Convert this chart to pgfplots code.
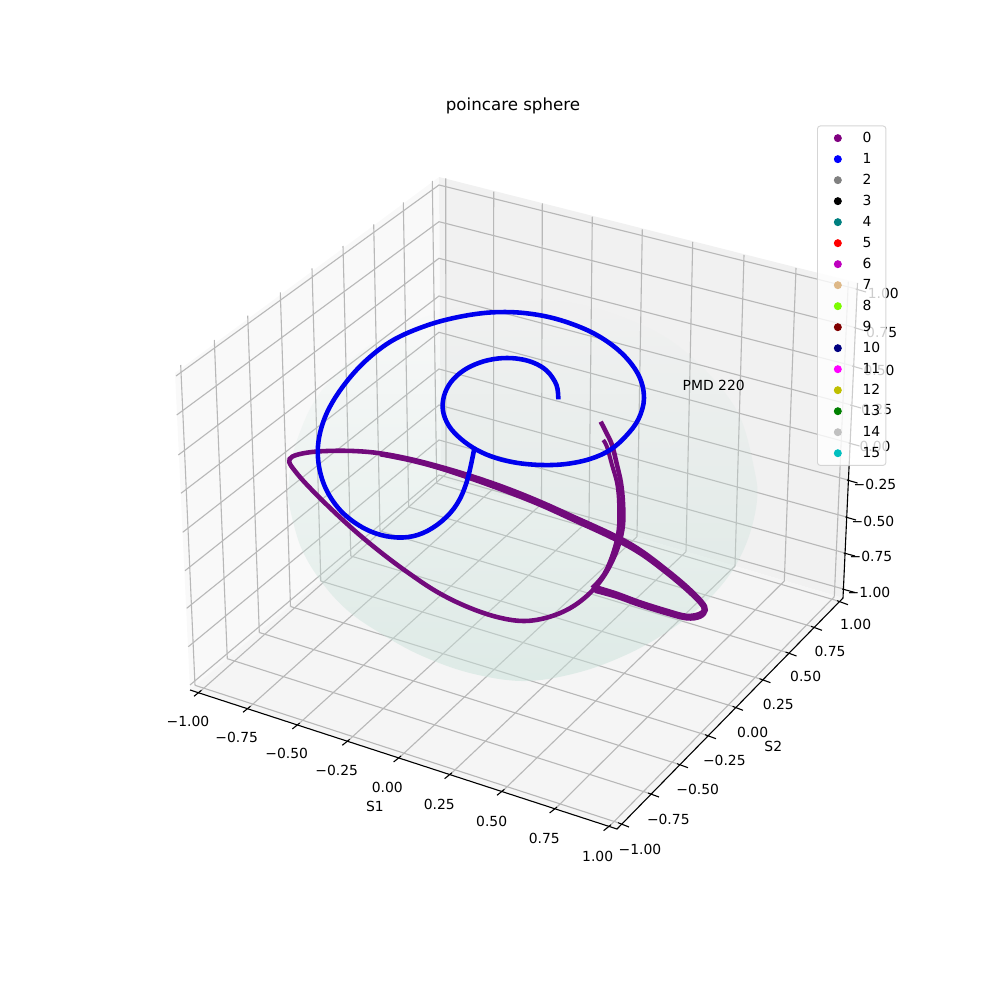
\documentclass[border=0pt]{standalone}
\usepackage{pgfplots}
\pgfplotsset{compat=1.18}
\usepackage{fontspec}
\setmainfont{DejaVu Sans}
\usetikzlibrary{fadings}
\definecolor{c0}{HTML}{800080}\definecolor{c1}{HTML}{0000FF}\definecolor{c2}{HTML}{808080}\definecolor{c3}{HTML}{000000}
\definecolor{c4}{HTML}{008080}\definecolor{c5}{HTML}{FF0000}\definecolor{c6}{HTML}{BF00BF}\definecolor{c7}{HTML}{DEB887}
\definecolor{c8}{HTML}{7CFC00}\definecolor{c9}{HTML}{800000}\definecolor{c10}{HTML}{000080}\definecolor{c11}{HTML}{FF00FF}
\definecolor{c12}{HTML}{BFBF00}\definecolor{c13}{HTML}{008000}\definecolor{c14}{HTML}{C0C0C0}\definecolor{c15}{HTML}{00BFBF}
\definecolor{curvepurple}{HTML}{720A7C}
\definecolor{curveblue}{HTML}{0000EE}
\definecolor{spherecol}{RGB}{200,225,217}
\tikzfading[name=spherefade, top color=transparent!100, middle color=transparent!76, bottom color=transparent!50]
\newcommand{\lab}[1]{\fontsize{10.04}{12}\selectfont #1}
\newcommand{\li}[1]{\addlegendentry{\makebox[4.6pt][l]{#1}}}
\newcommand{\lm}[1]{\addlegendimage{only marks, mark=*, mark size=2.5pt, mark options={draw=#1, fill=#1, fill opacity=1, draw opacity=1}}}
\begin{document}
\begin{tikzpicture}
\useasboundingbox (0,0) rectangle (722.7pt,712.58pt);
\begin{axis}[
  at={(0,0)}, anchor=south west, scale only axis,
  width=722.7pt, height=712.58pt,
  xmin=0, xmax=1000, ymin=0, ymax=986, y dir=reverse,
  hide axis, clip=false, unbounded coords=jump,
  legend style={at={(0.817,0.87272)}, anchor=north west,
    draw=black!20, line width=0.7pt, rounded corners=2pt,
    fill=white, fill opacity=0.8, draw opacity=0.8, text opacity=1,
    inner xsep=12.2pt, inner ysep=1.2pt,
    nodes={inner sep=0pt, text height=10.75pt, text depth=4.43pt, font=\fontsize{10.04}{12}\selectfont},
    /tikz/every odd column/.append style={column sep=15.4pt}, row sep=0pt},
  legend cell align=left,
]
% panes
\addplot[forget plot, draw=none, fill=black!2.5] coordinates {(175,373) (439,177) (441,479) (190,690)} -- cycle;
\addplot[forget plot, draw=none, fill=black!5.5] coordinates {(439,177) (858,283) (843,598) (441,479)} -- cycle;
\addplot[forget plot, draw=none, fill=black!4] coordinates {(190,690) (441,479) (843,598) (617,829)} -- cycle;
% grid: left pane, verticals
\addplot[forget plot, color=black!28, line width=0.8pt] coordinates {
(180.7,365)(195,685.3)(nan,nan)(214.3,340)(227.3,658.7)(nan,nan)(247.7,315.7)(259.3,632.5)(nan,nan)
(280.3,292.3)(290.5,606.5)(nan,nan)(312,268.3)(320.8,581)(nan,nan)(343,246)(350.8,556)(nan,nan)
(373.7,224.3)(380,531)(nan,nan)(403.3,202.3)(408.7,507)(nan,nan)(432.3,181)(436.7,483.3)};
% grid: back pane, verticals
\addplot[forget plot, color=black!28, line width=0.8pt] coordinates {
(445.7,178.3)(446,474)(nan,nan)(493.7,191.7)(493.5,488.5)(nan,nan)(542.3,203.3)(541.5,504)(nan,nan)
(592.3,216.7)(589,520)(nan,nan)(642.3,229.3)(637,536.7)(nan,nan)(692.7,242)(686,551.7)(nan,nan)
(744,255)(735,566)(nan,nan)(796,268)(784.3,581)(nan,nan)(848.3,281.7)(834.3,596.7)};
% grid: horizontal z lines on both walls
\addplot[forget plot, color=black!28, line width=0.8pt] coordinates {
(176,376)(439,185)(856.7,289)(nan,nan)
(176.7,415)(439,221.7)(854.9,327.5)(nan,nan)
(178.3,455)(439,258.3)(853.1,366)(nan,nan)
(181,493.3)(439,296)(851.3,405)(nan,nan)
(182.7,532.3)(439,332.3)(849.7,443)(nan,nan)
(185,570.7)(439,369)(848,480)(nan,nan)
(186.7,608.3)(439,405)(846.4,517)(nan,nan)
(188.3,646.7)(439,440)(844.8,553)(nan,nan)
(190,685)(439,475)(843.3,589)};
% grid: floor, constant S1
\addplot[forget plot, color=black!28, line width=0.8pt] coordinates {
(446,474)(201.4,690.3)(nan,nan)(493.5,488.5)(250.4,706.3)(nan,nan)(541.5,504)(299.7,723)(nan,nan)
(589,520)(349.7,739.3)(nan,nan)(637,536.7)(401,756)(nan,nan)(686,551.7)(452,772.7)(nan,nan)
(735,566)(504.4,789.3)(nan,nan)(784.3,581)(557,807)(nan,nan)(834.3,596.7)(611,824.7)};
% grid: floor, constant S2
\addplot[forget plot, color=black!28, line width=0.8pt] coordinates {
(195,685.3)(618,822.7)(nan,nan)(227.3,658.7)(648,793)(nan,nan)(259.3,632.5)(677,763.7)(nan,nan)
(290.5,606.5)(705,734.7)(nan,nan)(320.8,581)(732.5,706.3)(nan,nan)(350.8,556)(759.5,678.7)(nan,nan)
(380,531)(785.5,652)(nan,nan)(408.7,507)(811,626.3)(nan,nan)(436.7,483.3)(837,600.7)};
% sphere
\addplot[forget plot, draw=none, fill=spherecol, path fading=spherefade, fit fading=true, smooth, tension=0.6] coordinates {
(288,500)(290,470)(297,440)(315,400)(345,365)(385,335)(430,315)(480,303)(525,300)(575,303)(625,318)(670,340)(710,375)(740,417)(755,473)(757,500)(750,533)(737,563)(720,587)(700,607)(670,630)(630,653)(580,672)(525,681)(470,673)(420,655)(380,633)(347,610)(320,580)(300,545)(288,500)};
% axis lines
\addplot[forget plot, color=black, line width=0.8pt] coordinates {(190,690)(617,829)(843,598)(857.5,283)};
% ticks
\addplot[forget plot, color=black, line width=0.8pt] coordinates {
(194,696.3)(201.4,690.3)(nan,nan)(243,712.3)(250.4,706.3)(nan,nan)(292.3,729)(299.7,723)(nan,nan)
(342.3,745.3)(349.7,739.3)(nan,nan)(393.6,762)(401,756)(nan,nan)(444.6,778.7)(452,772.7)(nan,nan)
(497,795.3)(504.4,789.3)(nan,nan)(549.6,813)(557,807)(nan,nan)(603.6,830.7)(611,824.7)(nan,nan)
(618,822.7)(629,827)(nan,nan)(648,793)(659,797)(nan,nan)(677,763.7)(688,767.7)(nan,nan)
(705,734.7)(716,738.7)(nan,nan)(732.5,706.3)(743,710.3)(nan,nan)(759.5,678.7)(770.5,682.7)(nan,nan)
(785.5,652)(796.5,656)(nan,nan)(811,626.3)(822,630.3)(nan,nan)(837,600.7)(848,604.7)(nan,nan)
(855.7,289)(866,292)(nan,nan)(853.9,327.5)(864,330.5)(nan,nan)(852.1,366)(862.5,369)(nan,nan)
(850.3,405)(861,408)(nan,nan)(848.7,443)(859.5,446)(nan,nan)(847,480)(857.5,483)(nan,nan)
(845.4,517)(856,520)(nan,nan)(843.8,553)(855,556)(nan,nan)(842.3,589)(855,592.5)};
% purple curve
\addplot[forget plot, color=curvepurple, line width=3.3pt, smooth, tension=0.6] coordinates {
(600.7,421.7)(606,432)(612,445)(617,465)(621,483)(623,503)(623,525)(618,547)(607,571)(592,591)(572,607)(549,617)(524,621)(497,617)(467,606.7)(436.7,591.7)(406.7,571.7)(380,551.7)(353.3,529.5)(327,505)(306.7,484.5)(295,471)(289.3,462)(292.5,456.5)(306.7,452.7)(326.7,451)(353.3,451)(380,453.3)(410,459)(440,466.7)(473.3,476.7)(506.7,488.3)(540,501.7)(573.3,516.7)(613.3,535)(640,550)(666.7,570)(686.7,586.7)(701.7,601.7)(705.7,610)(700,616.7)(686.7,618.3)(666.7,613.3)(640,605)(616.7,596.7)(595,590.7)};
\addplot[forget plot, color=curvepurple, line width=2.9pt, smooth, tension=0.6] coordinates {
(603.3,440)(607,447)(612,465)(617,483)(619,503)(618.5,530)(613,553)(604,574)(592,588)};
\addplot[forget plot, color=curvepurple, line width=2.9pt, smooth, tension=0.6] coordinates {
(380,454.5)(410,460.5)(440,468.5)(473,479.5)(506,491.5)(540,505)(573,520)(613,538.5)(640,553.5)(664.5,571.5)(685,588.5)(700,603)(703.5,610)(698.5,614)(686,615.5)(667,610.5)(640,602)(617,593.5)(596,587)};
% blue curve
\addplot[forget plot, color=curveblue, line width=3.3pt, smooth, tension=0.6] coordinates {
(558.3,399.3)(556.5,385)(547,371)(533,362.5)(516,358.5)(498,358.5)(480,362.5)(463.5,370.5)(451,382)(444,396)(443,411)(449,426)(461,439)(477,450)(496,458)(518,463)(542,465)(566,464)(590,459)(610,450)(626,436)(638.5,419)(644,398)(638.5,375)(621,352.5)(594,333.5)(560,320)(526.7,313.3)(493.3,312.3)(460,316.7)(426.7,325.5)(393.3,340)(366,360.5)(344,385)(327.5,411.5)(319,438)(318.5,463)(325.5,488)(340,510)(360,526)(381,535)(403,537.5)(423,533)(442,521)(457,504)(467,481)(474,450)};
% text
\node[inner sep=0pt] at (axis cs:513,106) {\fontsize{12.05}{14}\selectfont poincare sphere};
\node[inner sep=0pt] at (axis cs:713.7,385) {\lab{PMD 220}};
\node[inner sep=0pt] at (axis cs:375,806) {\lab{S1}};
\node[inner sep=0pt] at (axis cs:773.3,746.7) {\lab{S2}};
\node[inner sep=0pt] at (axis cs:188,721) {\lab{−1.00}};
\node[inner sep=0pt] at (axis cs:236.7,737.3) {\lab{−0.75}};
\node[inner sep=0pt] at (axis cs:286.7,753.3) {\lab{−0.50}};
\node[inner sep=0pt] at (axis cs:336.7,770) {\lab{−0.25}};
\node[inner sep=0pt] at (axis cs:387.3,787.3) {\lab{0.00}};
\node[inner sep=0pt] at (axis cs:439.3,804) {\lab{0.25}};
\node[inner sep=0pt] at (axis cs:491.7,821) {\lab{0.50}};
\node[inner sep=0pt] at (axis cs:544.3,838.3) {\lab{0.75}};
\node[inner sep=0pt] at (axis cs:597.7,856) {\lab{1.00}};
\node[inner sep=0pt] at (axis cs:640,849.3) {\lab{−1.00}};
\node[inner sep=0pt] at (axis cs:668.3,819.3) {\lab{−0.75}};
\node[inner sep=0pt] at (axis cs:697.7,789.3) {\lab{−0.50}};
\node[inner sep=0pt] at (axis cs:724.3,760) {\lab{−0.25}};
\node[inner sep=0pt] at (axis cs:752.7,732.3) {\lab{0.00}};
\node[inner sep=0pt] at (axis cs:778.3,704) {\lab{0.25}};
\node[inner sep=0pt] at (axis cs:805.7,676.7) {\lab{0.50}};
\node[inner sep=0pt] at (axis cs:830,651) {\lab{0.75}};
\node[inner sep=0pt] at (axis cs:855.7,624) {\lab{1.00}};
\node[inner sep=0pt] at (axis cs:869,592.7) {\lab{−1.00}};
\node[inner sep=0pt] at (axis cs:871,556.7) {\lab{−0.75}};
\node[inner sep=0pt] at (axis cs:873,521) {\lab{−0.50}};
\node[inner sep=0pt] at (axis cs:875,484) {\lab{−0.25}};
\node[inner sep=0pt] at (axis cs:875,446.7) {\lab{0.00}};
\node[inner sep=0pt] at (axis cs:876.7,409.3) {\lab{0.25}};
\node[inner sep=0pt] at (axis cs:879,370) {\lab{0.50}};
\node[inner sep=0pt] at (axis cs:881.7,332) {\lab{0.75}};
\node[inner sep=0pt] at (axis cs:883.3,293.3) {\lab{1.00}};
% legend
\lm{c0}\li{0}\lm{c1}\li{1}\lm{c2}\li{2}\lm{c3}\li{3}
\lm{c4}\li{4}\lm{c5}\li{5}\lm{c6}\li{6}\lm{c7}\li{7}
\lm{c8}\li{8}\lm{c9}\li{9}\lm{c10}\li{10}\lm{c11}\li{11}
\lm{c12}\li{12}\lm{c13}\li{13}\lm{c14}\li{14}\lm{c15}\li{15}
\end{axis}
\end{tikzpicture}
\end{document}
